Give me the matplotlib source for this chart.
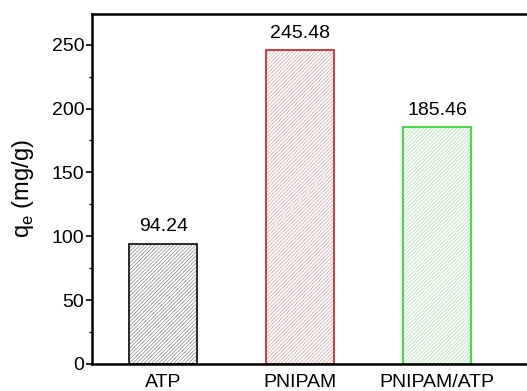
import matplotlib.pyplot as plt
import numpy as np

plt.rcParams['font.family'] = ['Liberation Sans', 'DejaVu Sans']
plt.rcParams['hatch.linewidth'] = 0.5

categories = ['ATP', 'PNIPAM', 'PNIPAM/ATP']
qe = [94.24, 245.48, 185.46]
edge_colors = ['#1a1a1a', '#d42a2a', '#33dd33']
hatch_colors = ['#858585', '#c9a3a3', '#a5dea5']

fig = plt.figure(figsize=(5.27, 3.91), dpi=100)
# axes runs off the right side of the picture, as in the reference
ax = fig.add_axes([92/527, 27/391, 470/527, 350/391])

x = np.arange(1, len(categories) + 1)
ax.bar(x, qe, width=0.5, color='white', edgecolor=hatch_colors, hatch='/////////', linewidth=0)
ax.bar(x, qe, width=0.5, fill=False, edgecolor=edge_colors, linewidth=1.3)

for xi, v in zip(x, qe):
    ax.annotate('%.2f' % v, (xi, v), xytext=(0, 6), textcoords='offset points',
                ha='center', va='bottom', fontsize=14)

ax.set_xlim(0.48, 0.48 + 470/137)
ax.set_ylim(0, 274)
ax.set_yticks(np.arange(0, 251, 50))
ax.set_yticks(np.arange(0, 275, 25), minor=True)
ax.set_xticks(x)
ax.set_xticklabels(categories)
ax.tick_params(axis='y', which='major', direction='out', length=4, width=1.2, labelsize=14, pad=1.5)
ax.tick_params(axis='y', which='minor', direction='out', length=2.5, width=1)
ax.tick_params(axis='x', length=0, labelsize=14, pad=7)
ax.set_ylabel(r'q$_\mathregular{e}$ (mg/g)', fontsize=17, labelpad=11)

for s in ax.spines.values():
    s.set_linewidth(1.8)

fig.savefig('out.png', dpi=100)
